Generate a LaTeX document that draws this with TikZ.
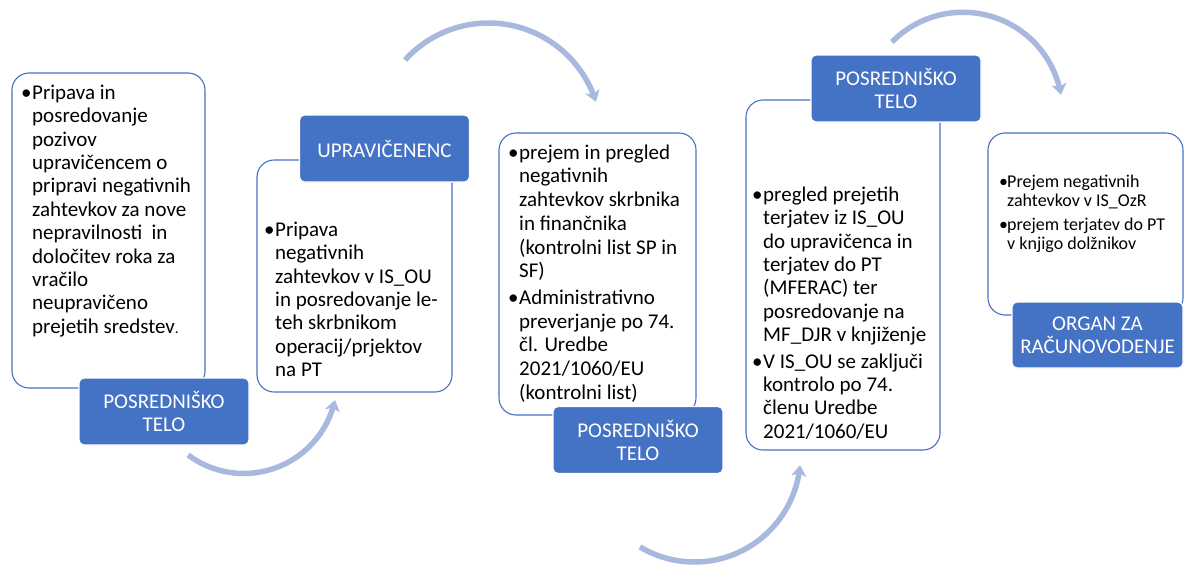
\documentclass[tikz,border=0pt]{standalone}
\usepackage{fontspec}
\setmainfont{Carlito}
\usetikzlibrary{arrows.meta}
\definecolor{officeblue}{RGB}{68,114,196}
\definecolor{arcblue}{RGB}{169,185,222}
% bullet column and its continuation indent
\newcommand\pbul{\makebox[11pt][l]{•}}
\newcommand\pcont{\hspace*{11pt}}
\newcommand\sbul{\makebox[8pt][l]{•}}
\newcommand\scont{\hspace*{8pt}}
\begin{document}
\begin{tikzpicture}[x=1pt,y=-1pt,
  panel/.style={draw=officeblue, line width=1.1pt, fill=white,
    rounded corners=17pt, inner sep=0pt},
  tag/.style={fill=officeblue, draw=white, line width=1.2pt,
    rounded corners=5pt, text=white, align=center, inner sep=0pt,
    minimum width=170pt, minimum height=67pt,
    font=\fontsize{21}{23}\selectfont},
  body/.style={anchor=north west, inner sep=0pt, align=left,
    font=\fontsize{21}{23.4}\selectfont},
  smallbody/.style={anchor=north west, inner sep=0pt, align=left,
    font=\fontsize{18}{19.5}\selectfont},
  flow/.style={draw=arcblue, line width=5.5pt,
    -{Stealth[width=15pt,length=11pt,inset=3pt]}}]

\path[use as bounding box] (0,0) rectangle (1185,565);

% white panels
\node[panel, minimum width=193pt, minimum height=315pt] (p1) at (108.5,230.5) {};
\node[panel, minimum width=195pt, minimum height=232pt] (p2) at (354.5,276) {};
\node[panel, minimum width=197pt, minimum height=282pt] (p3) at (597.5,274) {};
\node[panel, minimum width=194pt, minimum height=350pt] (p4) at (843,275) {};
\node[panel, minimum width=195pt, minimum height=182pt] (p5) at (1085.5,224) {};

% panel texts
\node[body] (t1) at (21,83) {%
\pbul\rule{0pt}{16pt}Pripava in\\
\pcont posredovanje\\
\pcont pozivov\\
\pcont upravičencem o\\
\pcont pripravi negativnih\\
\pcont zahtevkov za nove\\
\pcont nepravilnosti\ \ in\\
\pcont določitev roka za\\
\pcont vračilo\\
\pcont neupravičeno\\
\pcont prejetih sredstev{\fontsize{15}{15}\selectfont.}};

\node[body] (t2) at (264,220) {%
\pbul\rule{0pt}{16pt}Pripava\\
\pcont negativnih\\
\pcont zahtevkov v IS\_OU\\
\pcont in posredovanje le-\\
\pcont teh skrbnikom\\
\pcont operacij/prjektov\\
\pcont na PT};

\node[body, font=\fontsize{21}{23.7}\selectfont] (t3) at (508,143) {%
\pbul\rule{0pt}{16pt}prejem in pregled\\
\pcont negativnih\\
\pcont zahtevkov skrbnika\\
\pcont in finančnika\\
\pcont (kontrolni list SP in\\
\pcont SF)\\[3pt]
\pbul Administrativno\\
\pcont preverjanje po 74.\\
\pcont čl. Uredbe\\
\pcont 2021/1060/EU\\
\pcont (kontrolni list)};

\node[body] (t4) at (752,185) {%
\pbul\rule{0pt}{16pt}pregled prejetih\\
\pcont terjatev iz IS\_OU\\
\pcont do upravičenca in\\
\pcont terjatev do PT\\
\pcont (MFERAC) ter\\
\pcont posredovanje na\\
\pcont MF\_DJR v knjiženje\\[3pt]
\pbul V IS\_OU se zaključi\\
\pcont kontrolo po 74.\\
\pcont členu Uredbe\\
\pcont 2021/1060/EU};

\node[smallbody] (t5) at (999,173) {%
\sbul\rule{0pt}{14pt}Prejem negativnih\\
\scont zahtevkov v IS\_OzR\\[4pt]
\sbul prejem terjatev do PT\\
\scont v knjigo dolžnikov};

% role labels
\node[tag] (l1) at (164,411.5) {POSREDNIŠKO\\TELO};
\node[tag] (l2) at (384.5,148.5) {UPRAVIČENENC};
\node[tag] (l3) at (638,440) {POSREDNIŠKO\\TELO};
\node[tag] (l4) at (896,88.5) {POSREDNIŠKO\\TELO};
\node[tag, minimum width=171pt, minimum height=66pt] (l5) at (1097.5,335) {ORGAN ZA\\RAČUNOVODENJE};

% curved flow arrows between the steps
\coordinate (ca) at (243.75,380.05);
\coordinate (cb) at (488.48,135.65);
\coordinate (cc) at (962.94,111.75);
\coordinate (cd) at (694.4,456.0);
\draw[flow] plot[domain=0:1, samples=60, variable=\t]
  ({243.75+93.4*cos(126.6-114.3*\t)},{380.05+93.4*sin(126.6-114.3*\t)});
\draw[flow] plot[domain=0:1, samples=60, variable=\t]
  ({488.48+112.66*cos(-137.8+120.4*\t)},{135.65+112.66*sin(-137.8+120.4*\t)});
\draw[flow] plot[domain=0:1, samples=60, variable=\t]
  ({962.94+99.5*cos(-135.5+125.8*\t)},{111.75+99.5*sin(-135.5+125.8*\t)});
\draw[flow] plot[domain=0:1, samples=60, variable=\t]
  ({694.4+106*cos(120.9-116*\t)},{456.0+106*sin(120.9-116*\t)});
\end{tikzpicture}
\end{document}
